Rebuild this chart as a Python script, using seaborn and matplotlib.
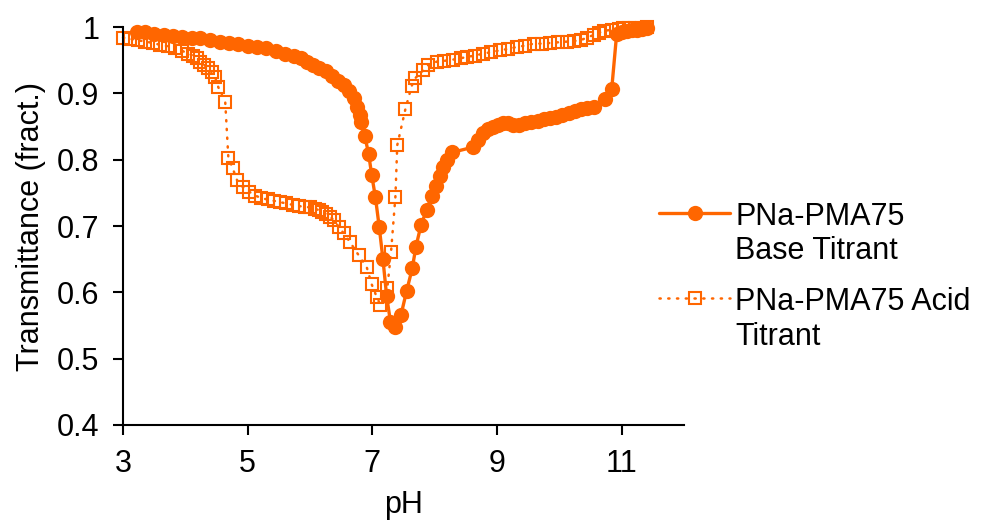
import matplotlib
matplotlib.use("Agg")
import matplotlib.pyplot as plt
import seaborn as sns
import pandas as pd
from matplotlib.ticker import FuncFormatter

base_ph = [3.22, 3.35, 3.5, 3.65, 3.8, 3.95, 4.1, 4.24, 4.4, 4.55, 4.7, 4.85, 5.0, 5.15, 5.3,
           5.45, 5.6, 5.75, 5.85, 5.95, 6.05, 6.15, 6.25, 6.35, 6.45, 6.54, 6.62, 6.70, 6.76,
           6.80, 6.82, 6.88, 6.94, 6.99, 7.05, 7.11, 7.17, 7.23, 7.29, 7.36, 7.46, 7.55, 7.64,
           7.70, 7.78, 7.87, 7.95, 8.02, 8.08, 8.14, 8.20, 8.28, 8.62, 8.70, 8.78, 8.86, 8.94,
           9.02, 9.10, 9.18, 9.26, 9.35, 9.45, 9.55, 9.65, 9.75, 9.85, 9.95, 10.05, 10.15,
           10.25, 10.35, 10.45, 10.55, 10.74, 10.84, 10.92, 11.0, 11.08, 11.16, 11.24, 11.32, 11.40]
base_t = [0.993, 0.992, 0.990, 0.988, 0.986, 0.985, 0.984, 0.983, 0.980, 0.978, 0.976, 0.974,
          0.972, 0.970, 0.968, 0.964, 0.960, 0.956, 0.953, 0.948, 0.943, 0.938, 0.933, 0.926,
          0.919, 0.912, 0.903, 0.893, 0.880, 0.868, 0.857, 0.835, 0.809, 0.777, 0.743, 0.699,
          0.650, 0.594, 0.556, 0.547, 0.566, 0.602, 0.636, 0.669, 0.701, 0.724, 0.745, 0.760,
          0.775, 0.789, 0.799, 0.811, 0.819, 0.830, 0.840, 0.846, 0.850, 0.853, 0.855, 0.856,
          0.852, 0.853, 0.855, 0.857, 0.859, 0.861, 0.863, 0.865, 0.868, 0.870, 0.873, 0.876,
          0.878, 0.880, 0.891, 0.906, 0.990, 0.992, 0.994, 0.995, 0.996, 0.997, 0.998]

acid_ph = [3.0, 3.12, 3.24, 3.36, 3.48, 3.6, 3.72, 3.84, 3.95, 4.05, 4.12, 4.18, 4.24, 4.30,
           4.36, 4.42, 4.48, 4.53, 4.64, 4.69, 4.76, 4.83, 4.92, 5.02, 5.12, 5.22, 5.32, 5.42,
           5.52, 5.62, 5.72, 5.82, 5.92, 6.00, 6.08, 6.14, 6.20, 6.26, 6.32, 6.38, 6.46, 6.54,
           6.64, 6.78, 6.91, 6.99, 7.07, 7.13, 7.24, 7.30, 7.37, 7.40, 7.53, 7.63, 7.69, 7.82,
           7.90, 8.04, 8.15, 8.30, 8.42, 8.52, 8.65, 8.78, 8.90, 9.05, 9.18, 9.32, 9.45, 9.59,
           9.72, 9.85, 9.98, 10.12, 10.24, 10.34, 10.44, 10.55, 10.63, 10.71, 10.84, 10.95,
           11.02, 11.12, 11.22, 11.32, 11.40]
acid_t = [0.984, 0.982, 0.980, 0.978, 0.976, 0.973, 0.971, 0.968, 0.964, 0.960, 0.957, 0.954,
          0.948, 0.943, 0.938, 0.932, 0.924, 0.909, 0.887, 0.803, 0.787, 0.769, 0.759, 0.752,
          0.746, 0.742, 0.740, 0.738, 0.736, 0.734, 0.732, 0.730, 0.729, 0.728, 0.726, 0.724,
          0.721, 0.718, 0.714, 0.709, 0.699, 0.689, 0.676, 0.656, 0.638, 0.612, 0.593, 0.581,
          0.606, 0.661, 0.744, 0.822, 0.876, 0.911, 0.923, 0.935, 0.943, 0.948, 0.949, 0.951,
          0.953, 0.955, 0.957, 0.960, 0.962, 0.965, 0.967, 0.970, 0.972, 0.975, 0.975, 0.976,
          0.977, 0.978, 0.979, 0.980, 0.984, 0.988, 0.991, 0.994, 0.996, 0.997, 0.998, 0.998,
          0.999, 0.999, 1.0]

base_label = "PNa-PMA75\nBase Titrant"
acid_label = "PNa-PMA75 Acid\nTitrant"
x_ticks = [3, 5, 7, 9, 11]
y_ticks = [0.4, 0.5, 0.6, 0.7, 0.8, 0.9, 1.0]

sns.set_theme(style="ticks")
plt.rcParams['font.family'] = ['Liberation Sans', 'DejaVu Sans']
plt.rcParams['text.color'] = 'black'

ORANGE = "#FF6600"
FS = 22

fig = plt.figure(figsize=(9.88, 5.25), dpi=100)
ax = fig.add_axes([0.1245, 0.1905, 0.5678, 0.758])

df_base = pd.DataFrame({"pH": base_ph, "T": base_t})
df_acid = pd.DataFrame({"pH": acid_ph, "T": acid_t})

sns.lineplot(data=df_base, x="pH", y="T", ax=ax, color=ORANGE, lw=2.4,
             marker="o", markersize=11, markeredgewidth=0, markerfacecolor=ORANGE,
             sort=False, estimator=None, label=base_label, clip_on=False)
sns.lineplot(data=df_acid, x="pH", y="T", ax=ax, color=ORANGE, lw=1.8,
             marker="s", markersize=9, markeredgewidth=1.5, markerfacecolor="none",
             markeredgecolor=ORANGE, sort=False, estimator=None, label=acid_label,
             clip_on=False)
acid_line = ax.lines[1]
acid_line.set_dashes((0.5, 3.0))
acid_line.set_dash_capstyle("round")

ax.set_xlim(3, 12)
ax.set_ylim(0.4, 1.0)
ax.set_xticks(x_ticks)
ax.set_yticks(y_ticks)
ax.yaxis.set_major_formatter(FuncFormatter(lambda v, p: f"{v:g}"))
ax.tick_params(axis="both", labelsize=FS, colors="black", length=7, width=1.5,
               direction="out", pad=10)
for s in ["top", "right"]:
    ax.spines[s].set_visible(False)
for s in ["left", "bottom"]:
    ax.spines[s].set_color("black")
    ax.spines[s].set_linewidth(1.5)

ax.set_xlabel("pH", fontsize=FS, color="black", labelpad=8)
ax.set_ylabel("Transmittance (fract.)", fontsize=FS, color="black", labelpad=8)

ax.get_legend().remove()
h, l = ax.get_legend_handles_labels()
leg = fig.legend(h, l, loc="center left", bbox_to_anchor=(0.655, 0.473), frameon=False,
                 fontsize=FS, handlelength=2.3, handletextpad=0.18, labelspacing=0.67,
                 borderaxespad=0, labelcolor="black")
for col in leg._legend_handle_box.get_children():
    for row in col.get_children():
        row.align = "top"

fig.savefig("out.png", dpi=100)
